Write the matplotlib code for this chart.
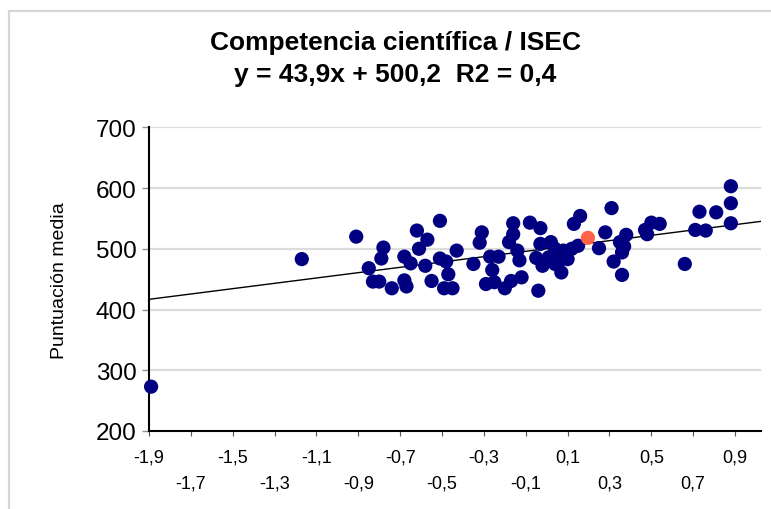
import matplotlib
matplotlib.use("Agg")
import matplotlib.pyplot as plt
from matplotlib.patches import Rectangle
import numpy as np

# ISEC medio (x) y puntuacion media en ciencias (y) de cada pais
isec = [-1.89, -1.17, -0.91, -0.85, -0.83, -0.80, -0.78, -0.79, -0.74, -0.68,
        -0.65, -0.68, -0.67, -0.62, -0.57, -0.61, -0.58, -0.55, -0.51, -0.51,
        -0.48, -0.43, -0.47, -0.49, -0.45, -0.35, -0.31, -0.32, -0.27, -0.23,
        -0.26, -0.29, -0.25, -0.20, -0.17, -0.12, -0.04, -0.16, -0.08, -0.03,
        -0.16, -0.18, -0.13, -0.14, -0.03, 0.02, 0.04, -0.05, -0.02, 0.01,
        0.08, 0.12, 0.15, 0.06, 0.10, 0.07, 0.04, 0.16, 0.13, 0.25,
        0.28, 0.31, 0.38, 0.35, 0.37, 0.36, 0.32, 0.36, 0.47, 0.50,
        0.54, 0.48, 0.66, 0.71, 0.76, 0.73, 0.81, 0.88, 0.88, 0.88]
puntuacion = [273, 483, 520, 468, 446, 446, 502, 484, 435, 487,
              476, 448, 438, 530, 515, 500, 472, 447, 546, 484,
              479, 497, 458, 435, 435, 475, 527, 510, 487, 487,
              465, 442, 445, 435, 447, 453, 431, 542, 543, 534,
              524, 511, 481, 497, 508, 511, 500, 485, 472, 486,
              497, 500, 505, 480, 483, 461, 475, 554, 541, 501,
              527, 567, 523, 511, 504, 494, 479, 457, 531, 543,
              541, 524, 475, 531, 530, 561, 560, 603, 575, 542]

# Espana, destacada en naranja
isec_esp = [0.197]
punt_esp = [518]

# recta de regresion del titulo
pendiente = 43.9
ordenada = 500.2

ticks_fila1 = [-1.9, -1.5, -1.1, -0.7, -0.3, 0.1, 0.5, 0.9]
ticks_fila2 = [-1.7, -1.3, -0.9, -0.5, -0.1, 0.3, 0.7]
yticks = [200, 300, 400, 500, 600, 700]

narrow = ['Liberation Sans Narrow', 'Liberation Sans', 'DejaVu Sans']
regular = ['Liberation Sans', 'DejaVu Sans']


def coma(v):
    return f"{v:.1f}".replace('.', ',')


fig = plt.figure(figsize=(7.71, 5.10), dpi=100)
ax = fig.add_axes([149 / 771, 78 / 510, 612 / 771, 303.7 / 510])

# marco gris de la figura
fig.patches.append(Rectangle((9 / 771, -0.05), 1.2, 1 - 11.5 / 510 + 0.05,
                             transform=fig.transFigure, fill=False,
                             edgecolor='#d6d6d6', linewidth=1.6, zorder=0))

xmin, xmax = -1.9, 1.024
ax.set_xlim(xmin, xmax)
ax.set_ylim(200, 700)

for y in yticks[1:]:
    ax.axhline(y, color='#dcdcdc', linewidth=1.6, zorder=0)

xs = np.array([xmin, xmax])
ax.plot(xs, pendiente * xs + ordenada, color='black', linewidth=1.0, zorder=2)

ax.scatter(isec, puntuacion, s=105, color='#000080', edgecolors='none', zorder=3,
           clip_on=False)
ax.scatter(isec_esp, punt_esp, s=105, color='#ff6347', edgecolors='none', zorder=4)

for s in ['top', 'right']:
    ax.spines[s].set_visible(False)
ax.spines['left'].set_linewidth(1.5)
ax.spines['bottom'].set_linewidth(1.5)

ax.set_xticks(ticks_fila1)
ax.set_xticklabels([coma(v) for v in ticks_fila1], family=narrow, fontsize=13)
ax.set_xticks(ticks_fila2, minor=True)
ax.set_xticklabels([coma(v) for v in ticks_fila2], minor=True, family=narrow,
                   fontsize=13)
ax.tick_params(axis='x', which='major', length=3.5, width=0.8, color='#555555',
               pad=9)
ax.tick_params(axis='x', which='minor', length=3.5, width=0.8, color='#555555',
               pad=28)

ax.set_yticks(yticks)
ax.set_yticklabels([str(v) for v in yticks], family=regular, fontsize=17.5)
ax.tick_params(axis='y', length=5, width=1.0, color='#909090', pad=4)

ax.set_ylabel('Puntuación media', family=regular, fontsize=14, labelpad=20)

fig.text(0.513, 1 - 43 / 510, 'Competencia científica / ISEC', ha='center',
         va='center', family=narrow, fontsize=19, fontweight='bold')
fig.text(0.513, 1 - 75 / 510, 'y = 43,9x + 500,2  R2 = 0,4', ha='center',
         va='center', family=narrow, fontsize=19, fontweight='bold')

fig.savefig('out.png', dpi=100)
